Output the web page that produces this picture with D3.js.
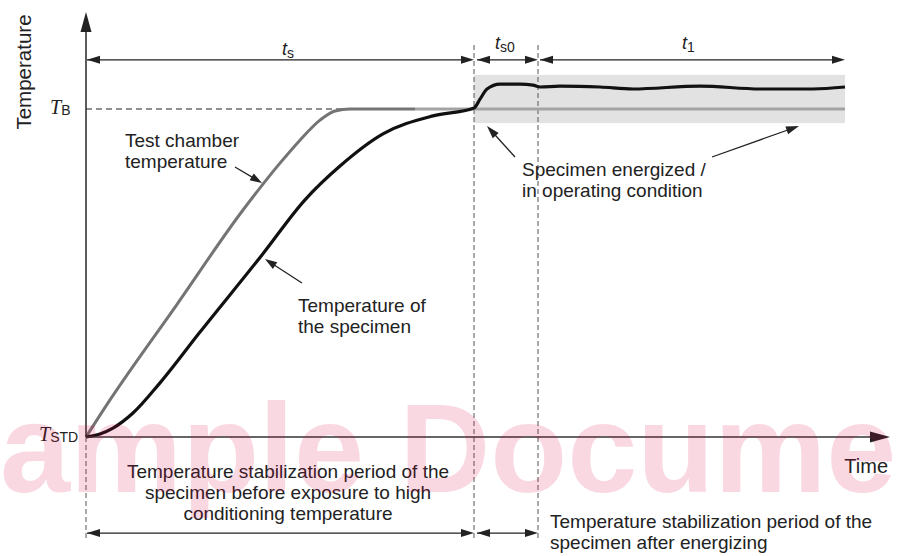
<!DOCTYPE html>
<html>
<head>
<meta charset="utf-8">
<script src="https://cdn.jsdelivr.net/npm/d3@7"></script>
<style>
body { margin: 0; background: #fff; }
text { font-family: "Liberation Sans", Arial, sans-serif; fill: #222; }
</style>
</head>
<body>
<script>
// time runs from the start of conditioning, temperature 0 = T_STD, 100 = T_B
var phaseNames = ["s", "s0", "1"];
var phaseEdges = [0, 388, 452, 759];

var chamberTime = [0, 24, 90, 157, 194, 214, 234, 249, 264, 329];
var chamberTemp = [0, 11.3, 40, 69.2, 83.5, 90.5, 96.6, 99.4, 100, 100];
var chamberLateTime = [329, 759];
var chamberLateTemp = [100, 100];

var specimenTime = [0, 14, 27, 47, 74, 114, 176, 219, 254, 297, 347, 388, 394, 401, 414, 434, 447, 454, 474, 514, 547, 614, 674, 727, 759];
var specimenTemp = [0, 0.9, 2.7, 7.3, 16.5, 32.0, 55.5, 72.3, 82.6, 92.4, 97.9, 100.3, 103.0, 106.1, 107.6, 107.6, 107.3, 106.7, 107.0, 106.7, 106.1, 107.0, 106.1, 106.1, 106.7];

var bandTemp = [95.7, 110.4];

var W = 900, H = 556;
var svg = d3.select("body").append("svg").attr("width", W).attr("height", H);

var x = d3.scaleLinear().domain([0, 800]).range([86, 886]);
var y = d3.scaleLinear().domain([0, 100]).range([437, 109]);

// helper: filled arrow head with tip at (tx,ty) pointing along angle
function head(g, tx, ty, ang, len, wid, col) {
	var c = Math.cos(ang), s = Math.sin(ang);
	var bx = tx - c * len, by = ty - s * len;
	var pts = [[tx, ty], [bx - s * wid / 2, by + c * wid / 2], [bx + s * wid / 2, by - c * wid / 2]];
	g.append("path").attr("d", "M" + pts.join("L") + "Z").attr("fill", col || "#222");
}
function arrow(g, x1, y1, x2, y2, both, len, wid, sw) {
	var ang = Math.atan2(y2 - y1, x2 - x1);
	g.append("line").attr("x1", x1).attr("y1", y1).attr("x2", x2 - Math.cos(ang) * len * 0.8).attr("y2", y2 - Math.sin(ang) * len * 0.8)
		.attr("stroke", "#222").attr("stroke-width", sw || 1.3);
	head(g, x2, y2, ang, len, wid);
	if (both) head(g, x1, y1, ang + Math.PI, len, wid);
}

var g = svg.append("g");

// shaded band after energizing
g.append("rect").attr("x", x(phaseEdges[1])).attr("y", y(bandTemp[1]))
	.attr("width", x(phaseEdges[3]) - x(phaseEdges[1])).attr("height", y(bandTemp[0]) - y(bandTemp[1]))
	.attr("fill", "#e2e2e2");

// dashed guides
[phaseEdges[1], phaseEdges[2]].forEach(function(t) {
	g.append("line").attr("x1", x(t)).attr("x2", x(t)).attr("y1", 45).attr("y2", 538)
		.attr("stroke", "#555").attr("stroke-width", 1).attr("stroke-dasharray", "5,3");
});
g.append("line").attr("x1", x(0)).attr("x2", x(0)).attr("y1", y(0)).attr("y2", 538)
	.attr("stroke", "#555").attr("stroke-width", 1).attr("stroke-dasharray", "5,3");
g.append("line").attr("x1", x(0)).attr("x2", x(phaseEdges[1])).attr("y1", y(100)).attr("y2", y(100))
	.attr("stroke", "#222").attr("stroke-width", 1.2).attr("stroke-dasharray", "6,4");

// curves
var line = d3.line().x(function(d) { return x(d[0]); }).y(function(d) { return y(d[1]); }).curve(d3.curveMonotoneX);
g.append("path").datum(d3.zip(chamberLateTime, chamberLateTemp)).attr("d", line)
	.attr("fill", "none").attr("stroke", "#a3a3a3").attr("stroke-width", 3);
g.append("path").datum(d3.zip(chamberTime, chamberTemp)).attr("d", line)
	.attr("fill", "none").attr("stroke", "#747474").attr("stroke-width", 3);
g.append("path").datum(d3.zip(specimenTime, specimenTemp)).attr("d", line)
	.attr("fill", "none").attr("stroke", "#111").attr("stroke-width", 3.2).attr("stroke-linejoin", "round");

// axes
g.append("line").attr("x1", x(0)).attr("x2", x(0)).attr("y1", y(0)).attr("y2", 28).attr("stroke", "#333").attr("stroke-width", 1.6);
head(g, x(0), 12, -Math.PI / 2, 20, 11, "#222");
g.append("line").attr("x1", x(0)).attr("x2", 875).attr("y1", y(0)).attr("y2", y(0)).attr("stroke", "#333").attr("stroke-width", 1.6);
head(g, 890, y(0), 0, 20, 11, "#222");

// phase dimension arrows
var topY = y(115);
arrow(g, x(phaseEdges[0]) + 1, topY, x(phaseEdges[1]), topY, true, 13, 8);
arrow(g, x(phaseEdges[1]) + 3, topY, x(phaseEdges[2]), topY, true, 13, 8);
arrow(g, x(phaseEdges[2]) + 2, topY, x(phaseEdges[3]), topY, true, 13, 8);

var phaseLabelX = [282, 495, 682];
var phaseLabelY = [55, 49, 49];
phaseNames.forEach(function(n, i) {
	var t = g.append("text").attr("x", phaseLabelX[i]).attr("y", phaseLabelY[i]).attr("font-size", 18);
	t.append("tspan").attr("font-style", "italic").text("t");
	t.append("tspan").attr("font-size", 14).attr("dy", 3).text(n);
});

var bottomY = y(-29.3);
arrow(g, x(0) + 1, bottomY, x(phaseEdges[1]), bottomY, true, 13, 8);
arrow(g, x(phaseEdges[1]) + 3, bottomY, x(phaseEdges[2]), bottomY, true, 13, 8);

// y level labels
var tb = g.append("text").attr("x", 50).attr("y", 114).attr("font-size", 20);
tb.append("tspan").attr("font-family", "Liberation Serif").attr("font-style", "italic").text("T");
tb.append("tspan").attr("font-size", 14).attr("dy", 1).text("B");
var ts = g.append("text").attr("x", 39).attr("y", 441).attr("font-size", 20);
ts.append("tspan").attr("font-family", "Liberation Serif").attr("font-style", "italic").text("T");
ts.append("tspan").attr("font-size", 14).attr("dy", 1).text("STD");

// axis titles
g.append("text").attr("transform", "translate(31,72) rotate(-90)").attr("text-anchor", "middle").attr("font-size", 20.5).text("Temperature");
g.append("text").attr("x", 888).attr("y", 473).attr("text-anchor", "end").attr("font-size", 20).text("Time");

// annotations
function lines(xp, yp, arr, anchor) {
	var t = g.append("text").attr("font-size", 19).attr("text-anchor", anchor || "start");
	arr.forEach(function(s, i) { t.append("tspan").attr("x", xp).attr("y", yp + i * 21).text(s); });
}
lines(125, 147, ["Test chamber", "temperature"]);
arrow(g, 235, 167, 262, 183, false, 12, 8);
lines(298, 312, ["Temperature of", "the specimen"]);
arrow(g, 302, 283, 265, 259, false, 12, 8);
lines(522, 176, ["Specimen energized /", "in operating condition"]);
arrow(g, 515, 157, 487, 126, false, 13, 8);
arrow(g, 712, 157, 799, 126, false, 13, 8);
lines(288, 478, ["Temperature stabilization period of the", "specimen before exposure to high", "conditioning temperature"], "middle");
lines(550, 528, ["Temperature stabilization period of the", "specimen after energizing"]);

// watermark of the source preview
svg.append("text").attr("x", -84).attr("y", 492).attr("font-size", 126).attr("font-weight", "bold")
	.style("fill", "rgb(220,0,70)").attr("opacity", 0.15).text("Sample Document");
</script>
</body>
</html>
